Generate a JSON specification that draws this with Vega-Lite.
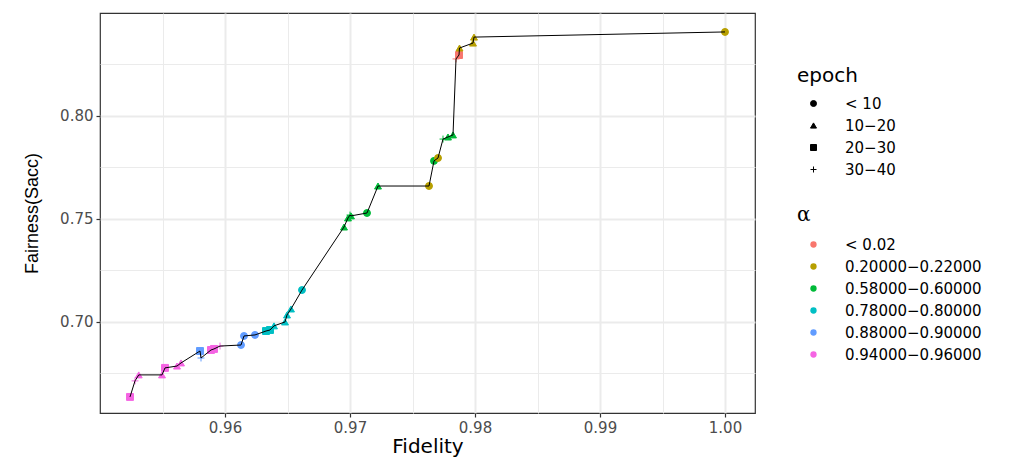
{
  "$schema": "https://vega.github.io/schema/vega-lite/v6.json",
  "autosize": "none",
  "width": 655,
  "height": 400,
  "padding": {"left": 100, "top": 13, "right": 259, "bottom": 44},
  "background": "white",
  "config": {
    "view": {"stroke": "#333333", "strokeWidth": 1.2},
    "font": "DejaVu Sans"
  },
  "data": {"values": [
    {"f": 0.9524, "s": 0.6636, "epoch": "20−30", "alpha": "0.94000−0.96000"},
    {"f": 0.9528, "s": 0.6714, "epoch": "30−40", "alpha": "0.94000−0.96000"},
    {"f": 0.9531, "s": 0.6743, "epoch": "10−20", "alpha": "0.94000−0.96000"},
    {"f": 0.95496, "s": 0.6743, "epoch": "10−20", "alpha": "0.94000−0.96000"},
    {"f": 0.9552, "s": 0.6777, "epoch": "20−30", "alpha": "0.94000−0.96000"},
    {"f": 0.95616, "s": 0.6786, "epoch": "10−20", "alpha": "0.94000−0.96000"},
    {"f": 0.95648, "s": 0.6801, "epoch": "10−20", "alpha": "0.94000−0.96000"},
    {"f": 0.958, "s": 0.6859, "epoch": "20−30", "alpha": "0.88000−0.90000"},
    {"f": 0.95808, "s": 0.6825, "epoch": "30−40", "alpha": "0.88000−0.90000"},
    {"f": 0.95888, "s": 0.6864, "epoch": "20−30", "alpha": "0.94000−0.96000"},
    {"f": 0.95912, "s": 0.6869, "epoch": "20−30", "alpha": "0.94000−0.96000"},
    {"f": 0.9596, "s": 0.6883, "epoch": "30−40", "alpha": "0.94000−0.96000"},
    {"f": 0.96128, "s": 0.6888, "epoch": "< 10", "alpha": "0.88000−0.90000"},
    {"f": 0.96152, "s": 0.6932, "epoch": "< 10", "alpha": "0.88000−0.90000"},
    {"f": 0.9624, "s": 0.6937, "epoch": "< 10", "alpha": "0.88000−0.90000"},
    {"f": 0.96328, "s": 0.6956, "epoch": "20−30", "alpha": "0.78000−0.80000"},
    {"f": 0.9636, "s": 0.6961, "epoch": "20−30", "alpha": "0.78000−0.80000"},
    {"f": 0.96392, "s": 0.6981, "epoch": "10−20", "alpha": "0.78000−0.80000"},
    {"f": 0.9648, "s": 0.7, "epoch": "10−20", "alpha": "0.78000−0.80000"},
    {"f": 0.96496, "s": 0.7034, "epoch": "10−20", "alpha": "0.78000−0.80000"},
    {"f": 0.96528, "s": 0.7063, "epoch": "10−20", "alpha": "0.78000−0.80000"},
    {"f": 0.96616, "s": 0.7155, "epoch": "< 10", "alpha": "0.78000−0.80000"},
    {"f": 0.96952, "s": 0.7461, "epoch": "10−20", "alpha": "0.58000−0.60000"},
    {"f": 0.96984, "s": 0.7505, "epoch": "10−20", "alpha": "0.58000−0.60000"},
    {"f": 0.97, "s": 0.7519, "epoch": "30−40", "alpha": "0.58000−0.60000"},
    {"f": 0.97008, "s": 0.7515, "epoch": "10−20", "alpha": "0.58000−0.60000"},
    {"f": 0.97136, "s": 0.7529, "epoch": "< 10", "alpha": "0.58000−0.60000"},
    {"f": 0.97224, "s": 0.766, "epoch": "10−20", "alpha": "0.58000−0.60000"},
    {"f": 0.97632, "s": 0.766, "epoch": "< 10", "alpha": "0.20000−0.22000"},
    {"f": 0.97672, "s": 0.7782, "epoch": "< 10", "alpha": "0.58000−0.60000"},
    {"f": 0.97704, "s": 0.7796, "epoch": "< 10", "alpha": "0.20000−0.22000"},
    {"f": 0.97744, "s": 0.7888, "epoch": "30−40", "alpha": "0.58000−0.60000"},
    {"f": 0.97784, "s": 0.7898, "epoch": "10−20", "alpha": "0.58000−0.60000"},
    {"f": 0.97824, "s": 0.7908, "epoch": "10−20", "alpha": "0.58000−0.60000"},
    {"f": 0.97848, "s": 0.8277, "epoch": "30−40", "alpha": "< 0.02"},
    {"f": 0.97872, "s": 0.8296, "epoch": "20−30", "alpha": "< 0.02"},
    {"f": 0.97876, "s": 0.833, "epoch": "10−20", "alpha": "0.20000−0.22000"},
    {"f": 0.97984, "s": 0.8354, "epoch": "10−20", "alpha": "0.20000−0.22000"},
    {"f": 0.97992, "s": 0.8383, "epoch": "10−20", "alpha": "0.20000−0.22000"},
    {"f": 1.0, "s": 0.8408, "epoch": "< 10", "alpha": "0.20000−0.22000"}
  ]},
  "encoding": {
    "x": {
      "field": "f", "type": "quantitative",
      "scale": {"domain": [0.95, 1.0024], "nice": false, "zero": false},
      "axis": {
        "title": "Fidelity",
        "values": [0.955, 0.96, 0.965, 0.97, 0.975, 0.98, 0.985, 0.99, 0.995, 1.0],
        "labelExpr": "abs(datum.value*100 - round(datum.value*100)) < 0.01 ? format(datum.value, '.2f') : ''",
        "domain": false,
        "gridColor": "#EBEBEB",
        "gridWidth": {"condition": {"test": "abs(datum.value*100 - round(datum.value*100)) < 0.01", "value": 2}, "value": 1},
        "tickOpacity": {"condition": {"test": "abs(datum.value*100 - round(datum.value*100)) < 0.01", "value": 1}, "value": 0},
        "tickColor": "#333333", "tickSize": 4, "tickWidth": 1.2,
        "labelColor": "#4D4D4D", "labelFontSize": 15, "labelPadding": 3,
        "titleFontSize": 20, "titleFontWeight": "normal", "titleColor": "black", "titlePadding": 1
      }
    },
    "y": {
      "field": "s", "type": "quantitative",
      "scale": {"domain": [0.6558, 0.85], "nice": false, "zero": false},
      "axis": {
        "title": "Fairness(Sacc)",
        "values": [0.675, 0.7, 0.725, 0.75, 0.775, 0.8, 0.825],
        "labelExpr": "abs(datum.value*20 - round(datum.value*20)) < 0.01 ? format(datum.value, '.2f') : ''",
        "domain": false,
        "gridColor": "#EBEBEB",
        "gridWidth": {"condition": {"test": "abs(datum.value*20 - round(datum.value*20)) < 0.01", "value": 2}, "value": 1},
        "tickOpacity": {"condition": {"test": "abs(datum.value*20 - round(datum.value*20)) < 0.01", "value": 1}, "value": 0},
        "tickColor": "#333333", "tickSize": 4, "tickWidth": 1.2,
        "labelColor": "#4D4D4D", "labelFontSize": 15, "labelPadding": 3,
        "titleFont": "Liberation Sans",
        "titleFontSize": 18, "titleFontWeight": "normal", "titleColor": "black", "titlePadding": 18
      }
    }
  },
  "layer": [
    {
      "mark": {"type": "point", "filled": true, "size": 48, "strokeWidth": 1, "opacity": 1},
      "encoding": {
        "color": {
          "field": "alpha", "type": "nominal",
          "scale": {
            "domain": ["< 0.02", "0.20000−0.22000", "0.58000−0.60000", "0.78000−0.80000", "0.88000−0.90000", "0.94000−0.96000"],
            "range": ["#F8766D", "#B79F00", "#00BA38", "#00BFC4", "#619CFF", "#F564E3"]
          },
          "legend": {
            "title": "α", "orient": "none", "legendX": 697, "legendY": 192,
            "titleFontSize": 20, "titleFontWeight": "normal", "titleColor": "black", "titleFont": "DejaVu Serif",
            "labelFontSize": 15, "labelColor": "black", "labelOffset": 24,
            "symbolType": "circle", "symbolSize": 40, "symbolStrokeWidth": 0, "symbolOffset": 9,
            "rowPadding": 6, "titlePadding": 12
          }
        },
        "stroke": {
          "field": "alpha", "type": "nominal",
          "scale": {
            "domain": ["< 0.02", "0.20000−0.22000", "0.58000−0.60000", "0.78000−0.80000", "0.88000−0.90000", "0.94000−0.96000"],
            "range": ["#F8766D", "#B79F00", "#00BA38", "#00BFC4", "#619CFF", "#F564E3"]
          },
          "legend": null
        },
        "shape": {
          "field": "epoch", "type": "nominal",
          "scale": {
            "domain": ["< 10", "10−20", "20−30", "30−40"],
            "range": ["circle", "triangle-up", "square", "M-1,0L1,0M0,-1L0,1"]
          },
          "legend": {
            "title": "epoch", "orient": "none", "legendX": 697, "legendY": 53,
            "titleFontSize": 20, "titleFontWeight": "normal", "titleColor": "black",
            "labelFontSize": 15, "labelColor": "black", "labelOffset": 24,
            "symbolSize": 36, "symbolFillColor": "black", "symbolStrokeColor": "black", "symbolStrokeWidth": 1, "symbolOffset": 9,
            "rowPadding": 6, "titlePadding": 10
          }
        }
      }
    },
    {
      "mark": {"type": "line", "color": "black", "strokeWidth": 1},
      "encoding": {}
    }
  ]
}
